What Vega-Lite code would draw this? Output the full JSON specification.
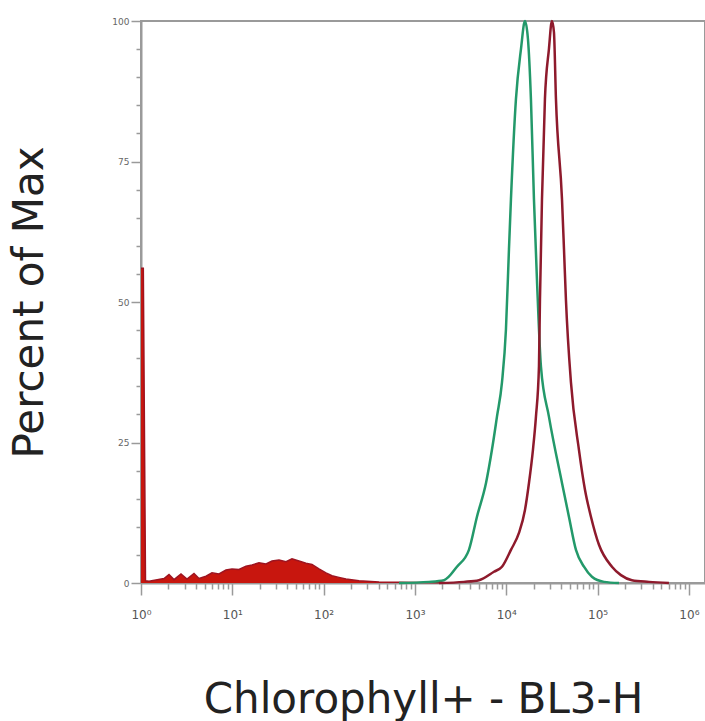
{
  "$schema": "https://vega.github.io/schema/vega-lite/v6.json",
  "autosize": "none",
  "width": 564,
  "height": 562,
  "padding": {"left": 141, "top": 21, "right": 0, "bottom": 138},
  "background": "white",
  "config": {"view": {"stroke": "#9a9a9a", "strokeWidth": 2}},
  "datasets": {
    "low": [
      {"x": 1, "p": 56}, {"x": 1.06, "p": 56}, {"x": 1.12, "p": 0.4},
      {"x": 1.224, "p": 0.3}, {"x": 1.786, "p": 0.8}, {"x": 2.026, "p": 1.5}, {"x": 2.298, "p": 0.6},
      {"x": 2.741, "p": 1.6}, {"x": 3.189, "p": 0.7}, {"x": 3.804, "p": 1.7}, {"x": 4.316, "p": 0.8},
      {"x": 5.149, "p": 1.2}, {"x": 5.991, "p": 1.8}, {"x": 7.145, "p": 1.6}, {"x": 8.524, "p": 2.3},
      {"x": 9.917, "p": 2.5}, {"x": 11.83, "p": 2.4}, {"x": 14.11, "p": 3.0}, {"x": 16.42, "p": 3.2},
      {"x": 19.59, "p": 3.6}, {"x": 23.37, "p": 3.4}, {"x": 27.19, "p": 3.9}, {"x": 32.43, "p": 4.1},
      {"x": 38.69, "p": 3.8}, {"x": 45.02, "p": 4.3}, {"x": 53.7, "p": 3.9}, {"x": 64.07, "p": 3.5},
      {"x": 74.54, "p": 3.3}, {"x": 88.9, "p": 2.5}, {"x": 106.1, "p": 1.8}, {"x": 123.4, "p": 1.3},
      {"x": 147.2, "p": 1.0}, {"x": 175.6, "p": 0.7}, {"x": 243.8, "p": 0.4}, {"x": 403.6, "p": 0.2},
      {"x": 1106, "p": 0.1}, {"x": 2357, "p": 0.0}
    ],
    "green": [
      {"x": 668, "p": 0}, {"x": 1422, "p": 0.2}, {"x": 2080, "p": 0.5}, {"x": 2884, "p": 2.9},
      {"x": 3900, "p": 5.9}, {"x": 4775, "p": 11.8}, {"x": 5998, "p": 17.8}, {"x": 6966, "p": 23.7},
      {"x": 7907, "p": 29.6}, {"x": 8972, "p": 35.7}, {"x": 9916, "p": 45.1}, {"x": 10700, "p": 59.4},
      {"x": 11250, "p": 68.3}, {"x": 12760, "p": 86.1}, {"x": 14480, "p": 95}, {"x": 16020, "p": 100},
      {"x": 17270, "p": 96.8}, {"x": 18620, "p": 86.1}, {"x": 20090, "p": 68.3}, {"x": 21670, "p": 54},
      {"x": 23970, "p": 38.5}, {"x": 29310, "p": 29.6}, {"x": 40740, "p": 17.8}, {"x": 48530, "p": 11.8},
      {"x": 57940, "p": 5.9}, {"x": 70950, "p": 2.9}, {"x": 86700, "p": 1.1}, {"x": 117500, "p": 0.2},
      {"x": 171400, "p": 0}
    ],
    "red": [
      {"x": 1832, "p": 0}, {"x": 3442, "p": 0.2}, {"x": 5023, "p": 0.5}, {"x": 7328, "p": 2.0},
      {"x": 8972, "p": 2.9}, {"x": 11250, "p": 5.9}, {"x": 13770, "p": 8.9}, {"x": 16020, "p": 13},
      {"x": 17720, "p": 17.8}, {"x": 19590, "p": 23.7}, {"x": 21130, "p": 29.6}, {"x": 22790, "p": 38.5},
      {"x": 23380, "p": 50.4}, {"x": 24600, "p": 68.3}, {"x": 26500, "p": 86.1}, {"x": 29310, "p": 95},
      {"x": 31620, "p": 100}, {"x": 33270, "p": 98}, {"x": 34990, "p": 86.1}, {"x": 40740, "p": 68.3},
      {"x": 42850, "p": 59.4}, {"x": 45000, "p": 50.4}, {"x": 51070, "p": 35.7}, {"x": 62490, "p": 23.7},
      {"x": 72730, "p": 16.6}, {"x": 84550, "p": 11.8}, {"x": 103500, "p": 6.8}, {"x": 143600, "p": 2.9},
      {"x": 180100, "p": 1.4}, {"x": 237700, "p": 0.5}, {"x": 365100, "p": 0.2}, {"x": 604000, "p": 0}
    ]
  },
  "encoding": {
    "x": {
      "field": "x", "type": "quantitative",
      "scale": {"type": "log", "domain": [1, 1500000], "nice": false},
      "axis": {
        "title": "Chlorophyll+ - BL3-H",
        "titleFont": "DejaVu Sans", "titleFontSize": 42, "titleFontWeight": "normal", "titleColor": "#222222",
        "titlePadding": 59,
        "values": [1,2,3,4,5,6,7,8,9,10,20,30,40,50,60,70,80,90,100,200,300,400,500,600,700,800,900,1000,2000,3000,4000,5000,6000,7000,8000,9000,10000,20000,30000,40000,50000,60000,70000,80000,90000,100000,200000,300000,400000,500000,600000,700000,800000,900000,1000000],
        "labelExpr": "indexof([1,10,100,1000,10000,100000,1000000], datum.value) >= 0 ? '10' + ['⁰','¹','²','³','⁴','⁵','⁶'][round(log(datum.value)/LN10)] : ''",
        "labelFont": "DejaVu Sans", "labelFontSize": 12, "labelColor": "#555555", "labelPadding": 14,
        "labelOverlap": false, "labelFlush": false,
        "tickSize": {"condition": {"test": "indexof([1,10,100,1000,10000,100000,1000000], datum.value) >= 0", "value": 12}, "value": 6},
        "tickColor": "#9a9a9a", "tickWidth": 1.5,
        "domainColor": "#9a9a9a", "domainWidth": 2,
        "grid": false
      }
    },
    "y": {
      "field": "p", "type": "quantitative",
      "scale": {"domain": [0, 100], "nice": false},
      "axis": {
        "title": "Percent of Max",
        "titleFont": "DejaVu Sans", "titleFontSize": 42, "titleFontWeight": "normal", "titleColor": "#222222",
        "titlePadding": 60,
        "values": [0,5,10,15,20,25,30,35,40,45,50,55,60,65,70,75,80,85,90,95,100],
        "labelExpr": "datum.value % 25 == 0 ? datum.label : ''",
        "labelFont": "DejaVu Sans", "labelFontSize": 9, "labelColor": "#666666", "labelPadding": 2,
        "labelOverlap": false, "labelFlush": false,
        "tickSize": {"condition": {"test": "datum.value % 25 == 0", "value": 10}, "value": 5},
        "tickColor": "#9a9a9a", "tickWidth": 1.5,
        "domainColor": "#9a9a9a", "domainWidth": 2,
        "grid": false
      }
    }
  },
  "layer": [
    {"data": {"name": "low"}, "mark": {"type": "area", "color": "#c8160e", "opacity": 1, "line": {"color": "#9e1420", "strokeWidth": 1.5}}},
    {"data": {"name": "green"}, "mark": {"type": "line", "color": "#23996a", "strokeWidth": 2.5, "interpolate": "monotone"}},
    {"data": {"name": "red"}, "mark": {"type": "line", "color": "#8e1a2c", "strokeWidth": 2.5, "interpolate": "monotone"}}
  ]
}
